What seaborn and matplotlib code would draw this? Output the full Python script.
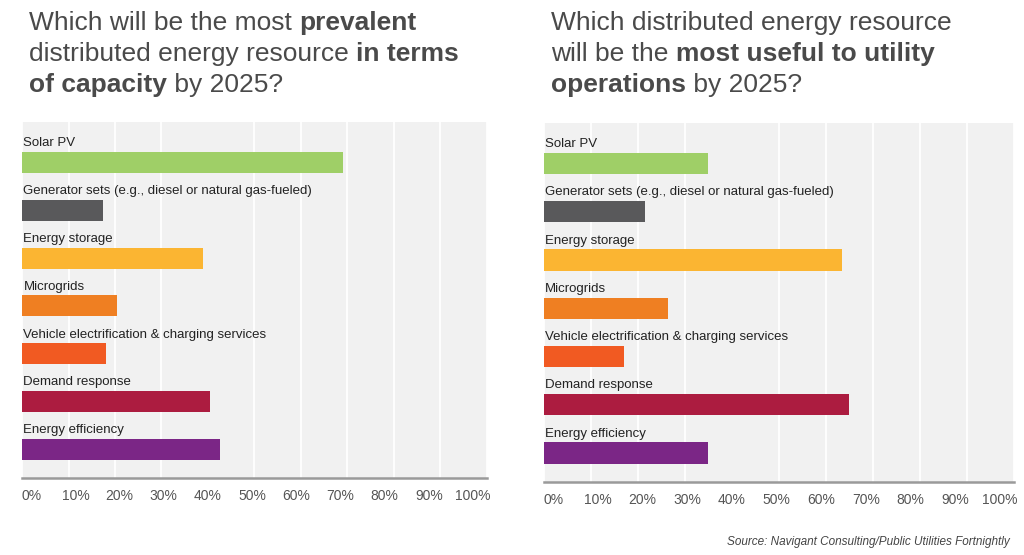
import matplotlib
matplotlib.use("Agg")
import matplotlib.pyplot as plt
import pandas as pd
import seaborn as sns

categories = ["Solar PV",
              "Generator sets (e.g., diesel or natural gas-fueled)",
              "Energy storage",
              "Microgrids",
              "Vehicle electrification & charging services",
              "Demand response",
              "Energy efficiency"]
capacity = [69, 17.5, 39, 20.5, 18, 40.5, 42.5]
usefulness = [35, 21.5, 63.5, 26.5, 17, 65, 35]
bar_colors = ["#9fcf67", "#59595b", "#fbb532", "#ef7f22", "#f15a22", "#ac1c40", "#7b2686"]
tick_labels = ["0%", "10%", "20%", "30%", "40%", "50%", "60%", "70%", "80%", "90%", "100%"]
# labels in the original sit slightly inside the gridlines
tick_label_pos = [2, 11.5, 21, 30.5, 40, 49.5, 59, 68.5, 78, 87.5, 97]

title_left = [[("Which will be the most ", "normal"), ("prevalent", "bold")],
              [("distributed energy resource ", "normal"), ("in terms", "bold")],
              [("of capacity", "bold"), (" by 2025?", "normal")]]
title_right = [[("Which distributed energy resource", "normal")],
               [("will be the ", "normal"), ("most useful to utility", "bold")],
               [("operations", "bold"), (" by 2025?", "normal")]]
source = "Source: Navigant Consulting/Public Utilities Fortnightly"

sns.set_style("white")
plt.rcParams['font.family'] = ['Liberation Sans', 'DejaVu Sans']

fig = plt.figure(figsize=(10.24, 5.55), dpi=100)
renderer = fig.canvas.get_renderer()
title_color = "#4a4a4a"


def draw_title(lines, x0, y0, step):
    for i, line in enumerate(lines):
        x = x0
        y = y0 - i * step
        for txt, weight in line:
            t = fig.text(x, y, txt, fontsize=19, fontweight=weight,
                         color=title_color, ha='left', va='baseline')
            bb = t.get_window_extent(renderer=renderer)
            x += bb.width / fig.bbox.width


def draw_panel(rect, values):
    ax = fig.add_axes(rect)
    df = pd.DataFrame({"category": categories, "value": values})
    sns.barplot(data=df, y="category", x="value", hue="category",
                palette=bar_colors, orient='h', width=0.44, legend=False,
                saturation=1, linewidth=0, ax=ax)
    ax.set_facecolor("#f1f1f1")
    ax.set_xlim(0, 100)
    ax.set_ylim(6.6, -0.84)
    ax.set_xticks(range(0, 101, 10), minor=True)
    ax.set_xticks(tick_label_pos)
    ax.set_xticklabels(tick_labels, color="#555555", fontsize=10)
    ax.set_yticks([])
    ax.set_xlabel("")
    ax.set_ylabel("")
    ax.xaxis.grid(True, which='minor', color="white", linewidth=1.3)
    ax.xaxis.grid(False, which='major')
    ax.set_axisbelow(True)
    for s in ["top", "right", "left"]:
        ax.spines[s].set_visible(False)
    ax.spines["bottom"].set_color("#9a9a9a")
    ax.spines["bottom"].set_linewidth(1.8)
    ax.tick_params(axis='x', which='both', length=0, pad=8)
    for i, cat in enumerate(categories):
        ax.text(0.3, i - 0.4, cat, fontsize=9.5, color="#222222",
                ha='left', va='center')
    return ax


draw_panel([0.0215, 0.1387, 0.454, 0.641], capacity)
draw_panel([0.531, 0.1315, 0.459, 0.647], usefulness)

draw_title(title_left, 29 / 1024, 1 - 30 / 555, 31 / 555)
draw_title(title_right, 551 / 1024, 1 - 30 / 555, 31 / 555)

fig.text(1010 / 1024, 1 - 545 / 555, source, fontsize=8.5, style='italic',
         color="#444444", ha='right', va='baseline')

plt.savefig("out.png", dpi=100)
